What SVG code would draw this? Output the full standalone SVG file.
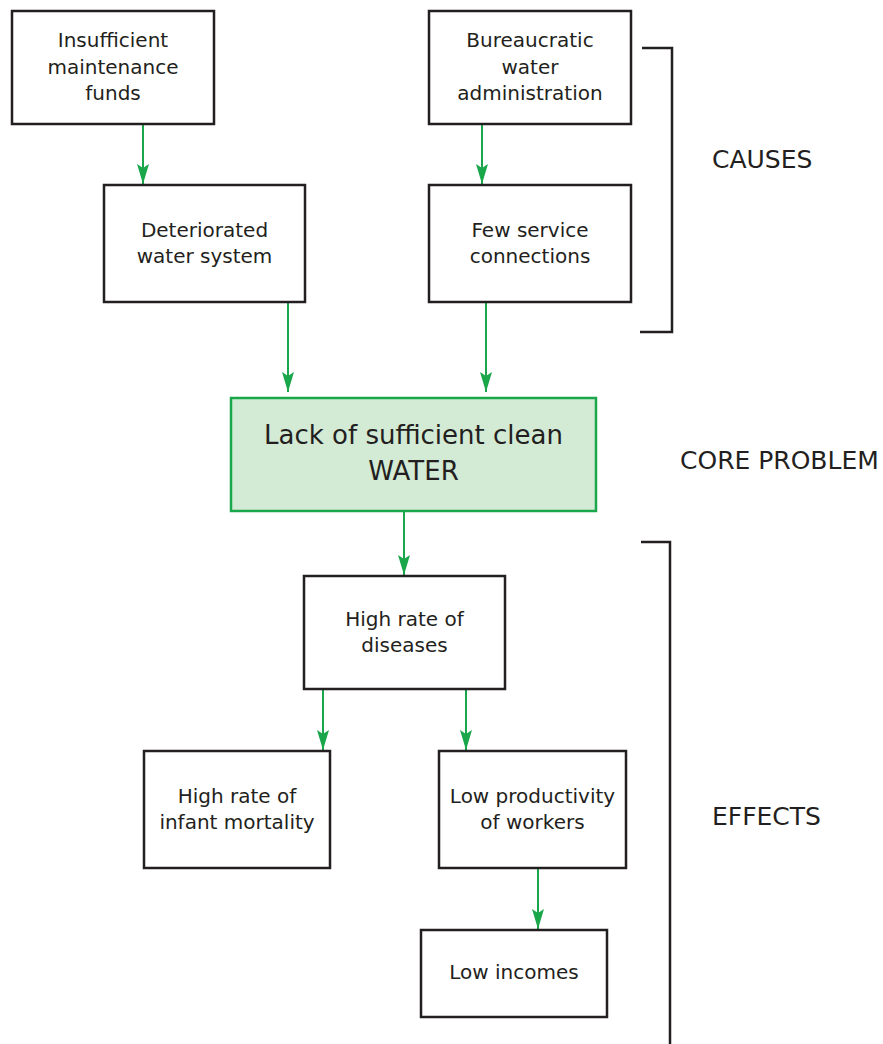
<svg xmlns="http://www.w3.org/2000/svg" width="883" height="1044" viewBox="0 0 883 1044">
  <style>
    .box { fill: #ffffff; stroke: #231f20; stroke-width: 2.5; }
    .core { fill: #d3ead5; stroke: #1aa64a; stroke-width: 2.5; }
    .t { font-family: "DejaVu Sans", "Noto Sans", sans-serif; font-size: 20px; fill: #231f20; text-anchor: middle; }
    .tc { font-family: "DejaVu Sans", "Noto Sans", sans-serif; font-size: 26px; fill: #231f20; text-anchor: middle; }
    .lbl { font-family: "DejaVu Sans", "Noto Sans", sans-serif; font-size: 25px; fill: #231f20; }
    .link { fill: none; stroke: #1aa64a; stroke-width: 2; marker-end: url(#arrow); }
    .bracket { fill: none; stroke: #231f20; stroke-width: 2.5; }
  </style>
  <defs>
    <!-- slim notched arrowhead, tip at the line end -->
    <marker id="arrow" markerUnits="userSpaceOnUse" viewBox="-21 -7 22 14" refX="0" refY="0" markerWidth="22" markerHeight="14" orient="auto">
      <path d="M0,0 L-20,-6 L-16,0 L-20,6 Z" fill="#1aa64a"/>
    </marker>
  </defs>

  <rect width="883" height="1044" fill="#ffffff"/>

  <!-- connectors -->
  <g id="connectors">
    <line class="link" x1="143" y1="124" x2="143" y2="184"/>
    <line class="link" x1="482" y1="124" x2="482" y2="184"/>
    <line class="link" x1="288" y1="302" x2="288" y2="392"/>
    <line class="link" x1="486" y1="302" x2="486" y2="392"/>
    <line class="link" x1="404" y1="511" x2="404" y2="575"/>
    <line class="link" x1="323" y1="689" x2="323" y2="750"/>
    <line class="link" x1="466" y1="689" x2="466" y2="750"/>
    <line class="link" x1="538" y1="868" x2="538" y2="929"/>
  </g>

  <!-- causes -->
  <g id="insufficient-funds">
    <rect class="box" x="12" y="11" width="202" height="113"/>
    <text class="t" x="113" y="47">Insufficient</text>
    <text class="t" x="113" y="74">maintenance</text>
    <text class="t" x="113" y="100">funds</text>
  </g>
  <g id="deteriorated-system">
    <rect class="box" x="104" y="185" width="201" height="117"/>
    <text class="t" x="204.5" y="237">Deteriorated</text>
    <text class="t" x="204.5" y="263">water system</text>
  </g>
  <g id="bureaucratic-admin">
    <rect class="box" x="429" y="11" width="202" height="113"/>
    <text class="t" x="530" y="47">Bureaucratic</text>
    <text class="t" x="530" y="74">water</text>
    <text class="t" x="530" y="100">administration</text>
  </g>
  <g id="few-connections">
    <rect class="box" x="429" y="185" width="202" height="117"/>
    <text class="t" x="530" y="237">Few service</text>
    <text class="t" x="530" y="263">connections</text>
  </g>

  <!-- core problem -->
  <g id="core-problem">
    <rect class="core" x="231" y="398" width="365" height="113"/>
    <text class="tc" x="413.5" y="444">Lack of sufficient clean</text>
    <text class="tc" x="413.5" y="480">WATER</text>
  </g>

  <!-- effects -->
  <g id="diseases">
    <rect class="box" x="304" y="576" width="201" height="113"/>
    <text class="t" x="404.5" y="626">High rate of</text>
    <text class="t" x="404.5" y="652">diseases</text>
  </g>
  <g id="infant-mortality">
    <rect class="box" x="144" y="751" width="186" height="117"/>
    <text class="t" x="237" y="803">High rate of</text>
    <text class="t" x="237" y="829">infant mortality</text>
  </g>
  <g id="low-productivity">
    <rect class="box" x="439" y="751" width="187" height="117"/>
    <text class="t" x="532.5" y="803">Low productivity</text>
    <text class="t" x="532.5" y="829">of workers</text>
  </g>
  <g id="low-incomes">
    <rect class="box" x="421" y="930" width="186" height="87"/>
    <text class="t" x="514" y="979">Low incomes</text>
  </g>

  <!-- section brackets and labels -->
  <g id="causes-bracket">
    <path class="bracket" d="M642,48 H672 V332 H640"/>
    <text class="lbl" x="712" y="168">CAUSES</text>
  </g>
  <g id="core-label">
    <text class="lbl" x="680" y="469">CORE PROBLEM</text>
  </g>
  <g id="effects-bracket">
    <path class="bracket" d="M641,542 H670 V1046"/>
    <text class="lbl" x="712" y="825">EFFECTS</text>
  </g>
</svg>
